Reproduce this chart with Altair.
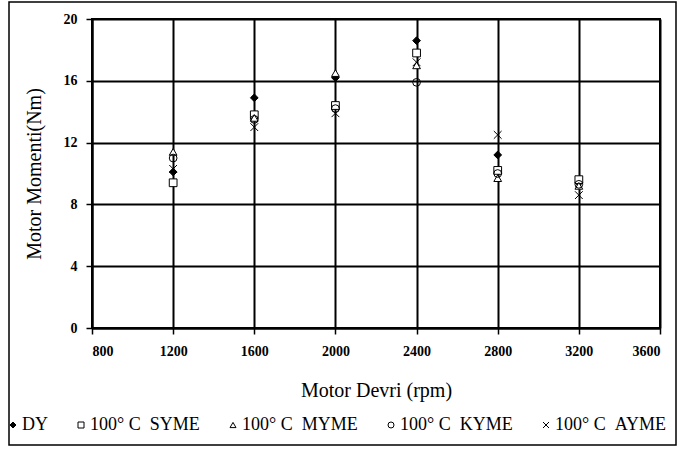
import altair as alt
import pandas as pd

rpm = [1200, 1600, 2000, 2400, 2800, 3200]
dy = [10.1, 14.9, 16.2, 18.6, 11.2, 9.4]
syme = [9.4, 13.8, 14.4, 17.8, 10.2, 9.6]
myme = [11.4, 13.6, 16.5, 17.0, 9.7, 9.2]
kyme = [11.0, 13.5, 14.2, 15.9, 10.0, 9.3]
ayme = [10.3, 13.0, 13.9, 17.2, 12.5, 8.6]

NB = "\u00a0"
series = ["DY", f"100° C{NB}{NB}SYME", f"100° C{NB}{NB}MYME",
          f"100° C{NB}{NB}KYME", f"100° C{NB}{NB}AYME"]
values = [dy, syme, myme, kyme, ayme]
x_ticks = [800, 1200, 1600, 2000, 2400, 2800, 3200, 3600]
y_ticks = [0, 4, 8, 12, 16, 20]

rows = []
for name, vals in zip(series, values):
    for r, v in zip(rpm, vals):
        rows.append({"rpm": r, "moment": v, "series": name})
df = pd.DataFrame(rows)

FONT = "Liberation Serif"
CROSS = "M-1,-1L1,1M1,-1L-1,1"

legend = alt.Legend(
    title=None, orient="none", legendX=-88, legendY=397, direction="horizontal",
    labelFont=FONT, labelFontSize=18, labelColor="black", labelOffset=0,
    columnPadding=24, symbolSize=36, symbolStrokeWidth=1,
)

points = alt.Chart(df).mark_point(size=60, strokeWidth=1, opacity=1).encode(
    x=alt.X("rpm:Q", scale=alt.Scale(domain=[800, 3600], nice=False),
            axis=alt.Axis(values=x_ticks, title="Motor Devri (rpm)", format="d")),
    y=alt.Y("moment:Q", scale=alt.Scale(domain=[0, 20], nice=False),
            axis=alt.Axis(values=y_ticks, title="Motor Momenti(Nm)")),
    shape=alt.Shape("series:N", sort=series,
                    scale=alt.Scale(domain=series,
                                    range=["diamond", "square", "triangle-up", "circle", CROSS]),
                    legend=legend),
    fill=alt.Fill("series:N", sort=series,
                  scale=alt.Scale(domain=series,
                                  range=["black", "white", "white", "transparent", "transparent"]),
                  legend=legend),
    stroke=alt.Stroke("series:N", sort=series,
                      scale=alt.Scale(domain=series,
                                      range=["black", "black", "black", "black", "black"]),
                      legend=legend),
)

frame = alt.Chart(pd.DataFrame({"a": [0]})).mark_rect(
    filled=False, stroke="black", strokeWidth=1.5
).encode(
    x=alt.value(-83), x2=alt.value(584), y=alt.value(-17), y2=alt.value(426)
)

chart = alt.layer(frame, points).properties(
    width=568, height=309,
    autosize=alt.AutoSizeParams(type="none"),
    padding={"left": 92, "top": 19, "right": 18, "bottom": 121},
).configure(
    background="white",
).configure_view(
    stroke="black", strokeWidth=2,
).configure_axis(
    grid=True, gridColor="black", gridWidth=2, gridOpacity=1,
    domainColor="black", domainWidth=2,
    tickColor="black", tickSize=6, tickWidth=1.5,
    labelFont=FONT, labelFontSize=14, labelFontWeight="bold", labelColor="black",
    titleFont=FONT, titleFontSize=20, titleFontWeight="normal", titleColor="black",
).configure_axisX(
    labelPadding=10, titlePadding=22,
).configure_axisY(
    labelPadding=9, titlePadding=19,
)

chart.save("out.html", embed_options={"renderer": "svg", "actions": False})
